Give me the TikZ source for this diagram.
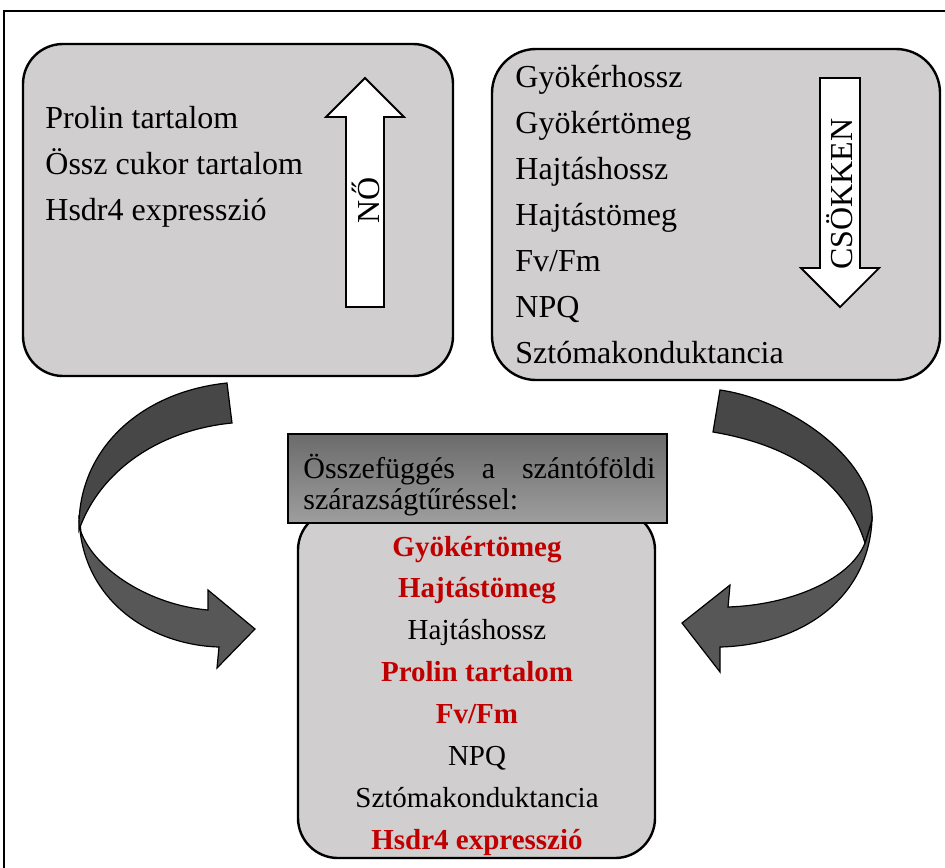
\documentclass[tikz,border=0pt]{standalone}
\usepackage{fontspec}
\setmainfont{Liberation Serif}
\definecolor{boxgray}{RGB}{208,206,206}
\definecolor{hitred}{RGB}{192,0,0}
\tikzset{
  box/.style={draw,line width=1.2pt,fill=boxgray,rounded corners=20pt,inner sep=0pt},
  item/.style={anchor=base west,inner sep=0pt,font=\fontsize{16}{19}\selectfont},
  res/.style={anchor=base,inner sep=0pt,font=\fontsize{14.5}{17}\selectfont},
  hit/.style={anchor=base,inner sep=0pt,font=\fontsize{14.5}{17}\selectfont\bfseries,text=hitred},
  blockarrow/.style={draw,line width=0.9pt,fill=white},
  ribbon/.style={draw,line width=0.6pt,fill=black!72},
}
\begin{document}
\begin{tikzpicture}[x=0.5pt,y=-0.5pt]
\clip (0,0) rectangle (945,867);
\draw[line width=0.8pt] (4,870) -- (4,11) -- (950,11);
% boxes
\node[box,minimum width=215pt,minimum height=166pt] (incr) at (238,210) {};
\node[box,minimum width=224pt,minimum height=165.5pt,rounded corners=22pt] (decr) at (716,214.5) {};
\node[box,minimum width=178.5pt,minimum height=174pt] (result) at (476.5,684) {};
\node[draw,line width=0.9pt,top color=black!58,bottom color=black!38,
  minimum width=189.5pt,minimum height=44.5pt,inner sep=0pt] (corr) at (477.5,478.5) {};
% up and down
\draw[blockarrow] (346,307) -- (346,117) -- (326,117) -- (365,78) -- (404,117) -- (384,117) -- (384,307) -- cycle;
\node[rotate=90,font=\fontsize{16}{19}\selectfont] (up) at (366,200) {NŐ};
\draw[blockarrow] (820,78) -- (860,78) -- (860,268) -- (879,268) -- (840,307) -- (801,268) -- (820,268) -- cycle;
\node[rotate=90,font=\fontsize{16}{19}\selectfont] (down) at (840,194) {CSÖKKEN};
% lists
\foreach \t [count=\i] in {Prolin tartalom,Össz cukor tartalom,Hsdr4 expresszió}
  \node[item] (l\i) at (45,{128+46*(\i-1)}) {\t};
\foreach \t [count=\i] in {Gyökérhossz,Gyökértömeg,Hajtáshossz,Hajtástömeg,Fv/Fm,NPQ,Sztómakonduktancia}
  \node[item] (r\i) at (515,{87+46*(\i-1)}) {\t};
\node[anchor=base west,inner sep=0pt,font=\fontsize{15}{16}\selectfont] (c1) at (303,478)
  {\makebox[176pt][s]{Összefüggés a szántóföldi}};
\node[anchor=base west,inner sep=0pt,font=\fontsize{15}{16}\selectfont] (c2) at (303,509) {szárazságtűréssel:};
\foreach \t/\s [count=\i] in {Gyökértömeg/hit,Hajtástömeg/hit,Hajtáshossz/res,Prolin tartalom/hit,
    {Fv/Fm}/hit,NPQ/res,Sztómakonduktancia/res,Hsdr4 expresszió/hit}
  \node[\s] (b\i) at (477,{556+41.9*(\i-1)}) {\t};
% curved arrows
\draw[ribbon,fill=black!66] (79,515) .. controls (80,600) and (150,645) .. (219,647) -- (217,668) -- (255,629)
  -- (208,590) -- (208,610) .. controls (150,605) and (95,570) .. (81,532) -- cycle;
\draw[ribbon] (227,383) .. controls (140,392) and (77,450) .. (79,530) .. controls (100,470) and (160,430) .. (232,423) -- cycle;
\draw[ribbon,fill=black!66] (872,520) .. controls (868,600) and (800,645) .. (720,647) -- (720,672) -- (682,623)
  -- (730,585) -- (728,607) .. controls (790,605) and (850,580) .. (865,543) -- cycle;
\draw[ribbon] (720,390) .. controls (790,400) and (875,460) .. (872,520) -- (865,543) .. controls (845,480) and (790,445) .. (713,432) -- cycle;
\end{tikzpicture}
\end{document}
